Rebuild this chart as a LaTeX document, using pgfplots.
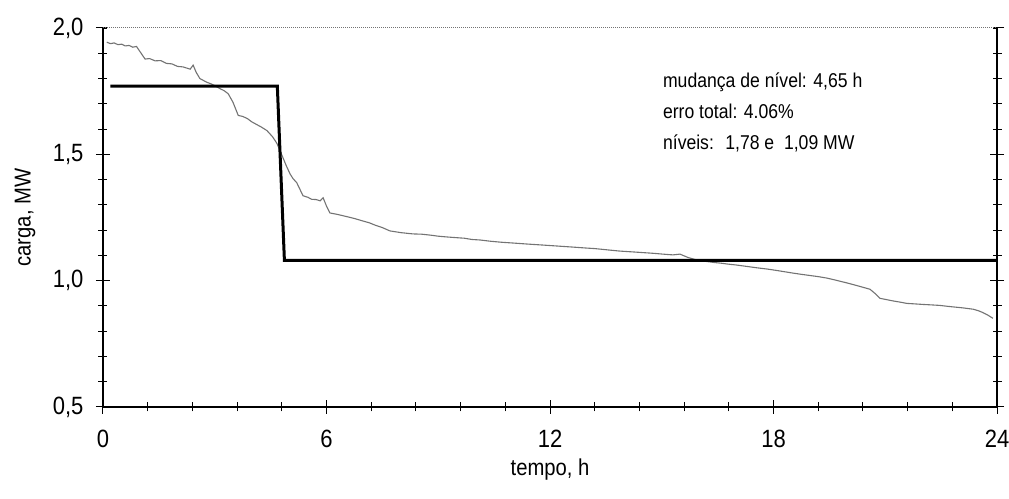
\documentclass[border=0pt]{standalone}
\usepackage{fontspec}
\setmainfont{Liberation Sans}[FakeStretch=0.88]
\usepackage{pgfplots}
\pgfplotsset{compat=1.18}
\begin{document}
\begin{tikzpicture}
\begin{axis}[
  name=ax,
  scale only axis,
  width=894pt, height=379pt,
  xmin=0, xmax=24, ymin=0.5, ymax=2.0,
  xtick={0,6,12,18,24},
  ytick={0.5,1.0,1.5,2.0},
  minor x tick num=4,
  minor y tick num=4,
  xtick pos=left,
  ytick pos=both,
  tick align=center,
  major tick length=14pt,
  minor tick length=9pt,
  every tick/.style={black, line width=1pt},
  axis line style={line width=1.2pt},
  /pgf/number format/assume math mode=true,
  yticklabel style={/pgf/number format/use comma, /pgf/number format/fixed, /pgf/number format/fixed zerofill, /pgf/number format/precision=1, font=\fontsize{25}{29}\selectfont, xshift=-9pt},
  xticklabel style={font=\fontsize{25}{29}\selectfont, yshift=-13pt},
  xlabel={tempo, h},
  ylabel={carga, MW},
  xlabel style={font=\fontsize{23}{27}\selectfont, at={(axis description cs:0.5,0)}, anchor=center, yshift=-63pt},
  ylabel style={font=\fontsize{23}{27}\selectfont, at={(axis description cs:0,0.5)}, anchor=center, yshift=78pt},
  clip=false,
]
\addplot[black!55, line width=1.1pt] coordinates {
(0.10,1.944) (0.20,1.938) (0.30,1.941) (0.40,1.934) (0.50,1.936) (0.60,1.929) (0.70,1.931) (0.80,1.924) (0.90,1.927) (1.00,1.905) (1.13,1.877)
(1.25,1.879) (1.40,1.870) (1.55,1.871) (1.70,1.860) (1.85,1.858) (2.00,1.848) (2.15,1.846) (2.34,1.837) (2.42,1.853) (2.50,1.825) (2.60,1.800)
(2.70,1.792) (2.79,1.785) (2.90,1.779) (3.00,1.772) (3.14,1.760) (3.25,1.752) (3.36,1.740) (3.49,1.706) (3.63,1.654) (3.75,1.650) (3.87,1.642)
(4.00,1.628) (4.10,1.620) (4.25,1.608) (4.40,1.594) (4.55,1.570) (4.67,1.543) (4.83,1.487) (4.92,1.455) (5.02,1.423) (5.10,1.404) (5.20,1.388)
(5.37,1.336) (5.50,1.330) (5.60,1.322) (5.72,1.321) (5.83,1.316) (5.91,1.328) (6.00,1.295) (6.09,1.268) (6.30,1.262) (6.50,1.255) (6.75,1.246)
(6.98,1.236) (7.15,1.229) (7.30,1.220) (7.50,1.210) (7.70,1.197) (8.00,1.190) (8.32,1.185) (8.55,1.184) (8.80,1.180) (9.00,1.176) (9.23,1.173)
(9.50,1.170) (9.70,1.168) (9.90,1.163) (10.12,1.161) (10.40,1.156) (10.70,1.152) (11.00,1.149) (11.38,1.145) (11.80,1.141) (12.20,1.137) (12.60,1.133) (12.98,1.129)
(13.20,1.127) (13.40,1.124) (13.60,1.121) (13.88,1.117) (14.20,1.114) (14.50,1.111) (14.80,1.108) (15.03,1.105) (15.30,1.102) (15.49,1.105)
(15.70,1.092) (16.03,1.078) (16.20,1.076) (16.40,1.072) (16.60,1.069) (16.75,1.066) (17.00,1.062) (17.30,1.056) (17.55,1.051) (17.83,1.046)
(18.10,1.040) (18.52,1.030) (18.75,1.025) (19.00,1.020) (19.20,1.016) (19.44,1.010) (19.70,1.001) (20.00,0.990) (20.30,0.978) (20.59,0.966) (20.72,0.950)
(20.86,0.930) (21.00,0.926) (21.20,0.920) (21.40,0.915) (21.58,0.910) (21.80,0.908) (22.00,0.906) (22.25,0.904) (22.47,0.902) (22.70,0.898) (22.90,0.895)
(23.10,0.892) (23.36,0.887) (23.50,0.881) (23.60,0.875) (23.75,0.864) (23.89,0.851)
};
\addplot[black, line width=3pt] coordinates {
(0.2,1.77) (4.68,1.77) (4.87,1.08) (24,1.08)
};
\node[anchor=base west, font=\fontsize{20}{24}\selectfont, inner sep=0pt] at (axis cs:15.03,1.765) {mudança de nível: 4,65 h};
\node[anchor=base west, font=\fontsize{20}{24}\selectfont, inner sep=0pt] at (axis cs:15.03,1.642) {erro total: 4.06\%};
\node[anchor=base west, font=\fontsize{20}{24}\selectfont, inner sep=0pt] at (axis cs:15.03,1.519) {níveis:~ 1,78 e~ 1,09 MW};
\draw[white, line width=2pt] (rel axis cs:0.005,1) -- (rel axis cs:0.995,1);
\draw[black!55, line width=1pt, densely dotted] (rel axis cs:0,1) -- (rel axis cs:1,1);
\end{axis}
\pgfresetboundingbox
\path ([xshift=-103pt,yshift=-92pt]ax.south west) rectangle ([xshift=12pt,yshift=28pt]ax.north east);
\end{tikzpicture}
\end{document}
